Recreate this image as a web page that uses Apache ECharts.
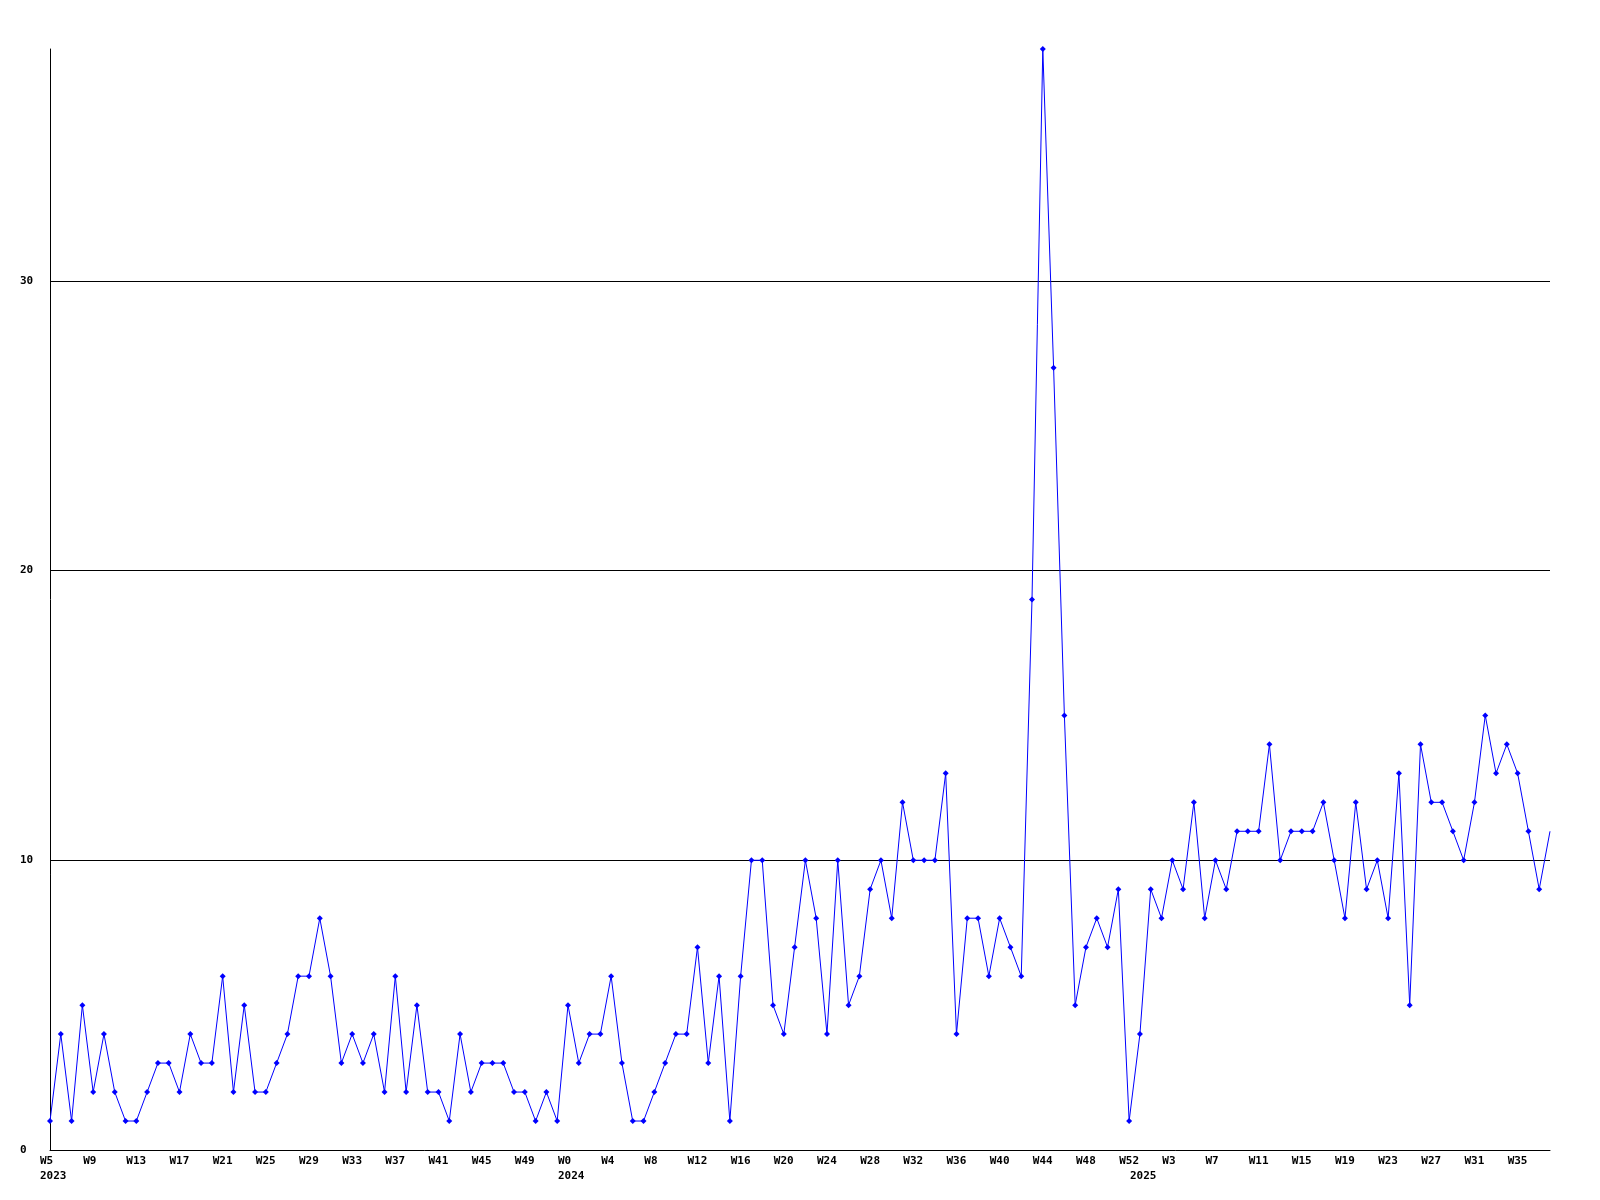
<!DOCTYPE html>
<html>
<head>
<meta charset="utf-8">
<script src="https://cdn.jsdelivr.net/npm/echarts@6/dist/echarts.min.js"></script>
<style>
  html, body { margin: 0; padding: 0; background: #ffffff; }
  #chart { width: 1600px; height: 1200px; }
</style>
</head>
<body>
<div id="chart"></div>
<script>
// ---- data ----
const weeks2023 = ["W5","W6","W7","W8","W9","W10","W11","W12","W13","W14","W15","W16","W17","W18","W19","W20","W21","W22","W23","W24","W25","W26","W27","W28","W29","W30","W31","W32","W33","W34","W35","W36","W37","W38","W39","W40","W41","W42","W43","W44","W45","W46","W47","W48","W49","W50","W51","W52"];
const weeks2024 = ["W0","W1","W2","W3","W4","W5","W6","W7","W8","W9","W10","W11","W12","W13","W14","W15","W16","W17","W18","W19","W20","W21","W22","W23","W24","W25","W26","W27","W28","W29","W30","W31","W32","W33","W34","W35","W36","W37","W38","W39","W40","W41","W42","W43","W44","W45","W46","W47","W48","W49","W50","W51","W52"];
const weeks2025 = ["W0","W1","W2","W3","W4","W5","W6","W7","W8","W9","W10","W11","W12","W13","W14","W15","W16","W17","W18","W19","W20","W21","W22","W23","W24","W25","W26","W27","W28","W29","W30","W31","W32","W33","W34","W35","W36","W37","W38"];
const years = ["2023", "2024", "2025"];

const values2023 = [1,4,1,5,2,4,2,1,1,2,3,3,2,4,3,3,6,2,5,2,2,3,4,6,6,8,6,3,4,3,4,2,6,2,5,2,2,1,4,2,3,3,3,2,2,1,2,1];
const values2024 = [5,3,4,4,6,3,1,1,2,3,4,4,7,3,6,1,6,10,10,5,4,7,10,8,4,10,5,6,9,10,8,12,10,10,10,13,4,8,8,6,8,7,6,19,38,27,15,5,7,8,7,9,1];
const values2025 = [4,9,8,10,9,12,8,10,9,11,11,11,14,10,11,11,11,12,10,8,12,9,10,8,13,5,14,12,12,11,10,12,15,13,14,13,11,9,11];

const yTicks = [0, 10, 20, 30];

// ---- build category list ----
const weekGroups = [weeks2023, weeks2024, weeks2025];
const categories = [];
const yearStartIndex = {};
weekGroups.forEach((g, gi) => {
  yearStartIndex[categories.length] = years[gi];
  g.forEach(w => categories.push(years[gi] + "-" + w));
});
const values = values2023.concat(values2024, values2025);
const lastIndex = values.length - 1;

const font = '"DejaVu Sans Mono", "Liberation Mono", monospace';
const tokenStyle = { width: 20, align: 'left', fontFamily: font, fontWeight: 'bold', fontSize: 11, lineHeight: 15, color: '#000000' };

const chart = echarts.init(document.getElementById('chart'), null, { renderer: 'canvas' });
chart.setOption({
  animation: false,
  backgroundColor: '#ffffff',
  grid: { left: 50, right: 50, top: 49, bottom: 50, containLabel: false, outerBoundsMode: 'none' },
  xAxis: {
    type: 'category',
    data: categories,
    boundaryGap: false,
    axisLine: { show: true, lineStyle: { color: '#000000', width: 1 } },
    axisTick: { show: false },
    splitLine: { show: false },
    axisLabel: {
      interval: (index) => index % 4 === 0 || yearStartIndex[index] !== undefined,
      formatter: (value, index) => {
        const week = value.split('-')[1];
        const yr = yearStartIndex[index];
        if (index % 4 === 0) return yr ? '{a|' + week + '}\n{a|' + yr + '}' : '{a|' + week + '}';
        return '{a| }\n{a|' + yr + '}';
      },
      rich: { a: tokenStyle },
      align: 'center',
      color: '#000000',
      fontFamily: font,
      fontWeight: 'bold',
      fontSize: 11,
      lineHeight: 15,
      margin: 4
    }
  },
  yAxis: {
    type: 'value',
    min: 0,
    max: 38,
    interval: 10,
    axisLine: { show: true, lineStyle: { color: '#000000', width: 1 } },
    axisTick: { show: false },
    splitLine: { show: true, showMinLine: false, showMaxLine: false, lineStyle: { color: '#000000', width: 1 } },
    axisLabel: {
      showMaxLabel: false,
      formatter: (v) => (yTicks.indexOf(v) >= 0 ? String(v) : ''),
      align: 'left',
      margin: 30,
      color: '#000000',
      fontFamily: font,
      fontWeight: 'bold',
      fontSize: 11
    }
  },
  series: [{
    type: 'line',
    data: values,
    symbol: (v, params) => (params.dataIndex === lastIndex ? 'none' : 'diamond'),
    symbolSize: 6,
    showAllSymbol: true,
    itemStyle: { color: '#0000ff' },
    lineStyle: { color: '#0000ff', width: 1 },
    clip: false,
    z: 3
  }]
});
</script>
</body>
</html>
